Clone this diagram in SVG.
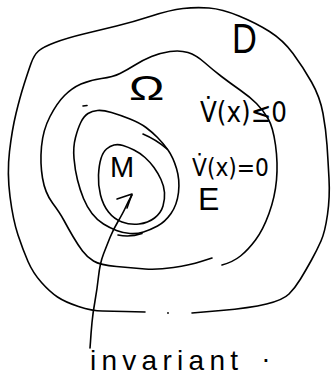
<svg xmlns="http://www.w3.org/2000/svg" width="333" height="380" viewBox="0 0 333 380">
<style>
.s{fill:none;stroke:#000;stroke-width:1.6;stroke-linecap:round;stroke-linejoin:round}
.t{fill:#000;font-family:"Liberation Sans","DejaVu Sans",sans-serif}
.d{fill:#000;font-family:"DejaVu Sans","Liberation Sans",sans-serif}
</style>
<rect width="333" height="380" fill="#fff"/>
<g id="region-D">
<path class="s" d="M 192,313 L 221,310.5 Q 250,308 266.5,304 Q 283,300 289,294 Q 295,288 300.5,279 Q 306,270 311.5,260 Q 317,250 321,241 Q 325,232 327.5,214.5 Q 330,197 329,178.5 Q 328,160 327,145 Q 326,130 323,113.5 Q 320,97 311.5,82 Q 303,67 293,53.5 Q 283,40 269.5,31.5 Q 256,23 239,16 Q 222,9 209,8 Q 196,7 183,8.5 Q 170,10 151.5,16 Q 133,22 116.5,26 Q 100,30 83.5,34 Q 67,38 55,42.5 Q 43,47 38.5,51 Q 34,55 31,63.5 Q 28,72 24,84.5 Q 20,97 16,113.5 Q 12,130 9.5,151.5 Q 7,173 10,196.5 Q 13,220 18,235 Q 23,250 28,261.5 Q 33,273 41.5,282.5 Q 50,292 57.5,297 Q 65,302 78.5,306.5 Q 92,311 102.5,311 Q 113,311 125,311.5 L 145,312"/>
<circle cx="168" cy="313" r="0.9" fill="#000"/>
<text class="t" x="0" y="0" font-size="42" transform="translate(232,53) scale(0.82,1)">D</text>
</g>
<g id="region-Omega">
<path class="s" d="M 212,258 L 201,261.5 Q 190,265 173.5,267.5 Q 157,270 145,269 Q 133,268 116.5,266.5 Q 100,265 93.5,261 Q 87,257 82.5,251 Q 78,245 73,236.5 Q 68,228 64,220.5 Q 60,213 52.5,203 Q 45,193 42.5,178 Q 40,163 41.5,146.5 Q 43,130 50,116.5 Q 57,103 64.5,95.5 Q 72,88 81,84 Q 90,80 101.5,78.5 Q 113,77 120,73.5 Q 127,70 135,65 Q 143,60 151.5,56.5 Q 160,53 170,51.5 Q 180,50 188,52.5 Q 196,55 204.5,62.5 Q 213,70 221.5,76.5 Q 230,83 240,90 Q 250,97 256.5,103.5 Q 263,110 268,118.5 Q 273,127 275.5,145 Q 278,163 276.5,180 Q 275,197 269,213.5 Q 263,230 255.5,240 Q 248,250 240.5,256 Q 233,262 222,265"/>
<path class="s" d="M 83,106 L 87,105.5"/>
<text class="t" x="0" y="0" font-size="35" transform="translate(129,100) scale(1.35,1)">Ω</text>
<text class="d" x="200" y="122" font-size="28" textLength="87" lengthAdjust="spacingAndGlyphs">V̇(x)≤0</text>
</g>
<g id="region-E">
<path class="s" d="M 97.5,110.5 Q 103,110 111.5,112.5 Q 120,115 130,119 Q 140,123 146,127.5 Q 152,132 157.5,137.5 Q 163,143 168,150 Q 173,157 176.5,168.5 Q 180,180 178.5,192.5 Q 177,205 171,213.5 Q 165,222 157.5,226 Q 150,230 143.5,232 Q 137,234 130,233.5 Q 123,233 116.5,230.5 Q 110,228 103.5,224 Q 97,220 92,213.5 Q 87,207 83.5,198.5 Q 80,190 77.5,180 Q 75,170 74,158.5 Q 73,147 75.5,137.5 Q 78,128 81,122 Q 84,116 88,113.5 Q 92,111 97.5,110.5 Z"/>
<path class="s" d="M 143,134 Q 157,140 167,149"/>
<path class="s" d="M 118,235 Q 130,237.5 142,233.5"/>
<text class="d" x="192" y="176" font-size="25" textLength="77" lengthAdjust="spacingAndGlyphs">V̇(x)=0</text>
<text class="t" x="198" y="210" font-size="32">E</text>
</g>
<g id="region-M">
<path class="s" d="M 106.5,149 Q 110,146 114,145 Q 118,144 123,145.5 Q 128,147 134,150 Q 140,153 145,157.5 Q 150,162 154,167.5 Q 158,173 161,179.5 Q 164,186 164.5,192.5 Q 165,199 163,206 Q 161,213 154.5,218 Q 148,223 139,224 Q 130,225 122,222 Q 114,219 108.5,212 Q 103,205 100.5,195 Q 98,185 98.5,175 Q 99,165 101,158.5 Q 103,152 106.5,149 Z"/>
<text class="t" x="110" y="177" font-size="29">M</text>
</g>
<g id="label-invariant">
<text class="t" y="370" font-size="28"><tspan x="90" textLength="148" lengthAdjust="spacing">invariant</tspan><tspan x="262" y="362">.</tspan></text>
</g>
<g id="connectors">
<path class="s" d="M 90,348 L 90.5,341.5 Q 91,333 92,322.5 Q 93,312 95,301 Q 97,290 98.5,276.5 Q 100,263 103.5,254 Q 107,245 110,237.5 Q 113,230 118,221.5 Q 123,213 125.5,207.5 Q 128,202 132,195"/>
<path class="s" d="M 117,199 L 132,194 L 127,208"/>
</g>
</svg>
